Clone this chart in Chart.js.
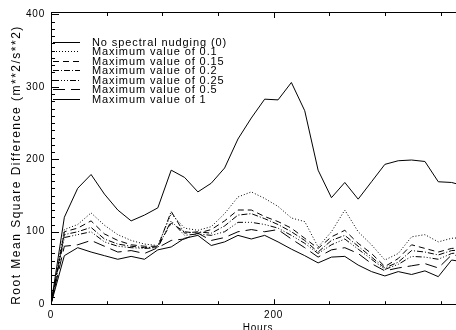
<!DOCTYPE html>
<html>
<head>
<meta charset="utf-8">
<script src="https://cdn.jsdelivr.net/npm/chart.js@4.4.0/dist/chart.umd.min.js"></script>
<style>
  html, body { margin: 0; padding: 0; background: #fff; overflow: hidden; }
  canvas { display: block; }
</style>
</head>
<body>
<canvas id="rmsChart" width="470" height="330"></canvas>
<script>
// forecast hours, 12-hourly output
const hours = [0, 12, 24, 36, 48, 60, 72, 84, 96, 108, 120, 132, 144, 156, 168, 180,
               192, 204, 216, 228, 240, 252, 264, 276, 288, 300, 312, 324, 336, 348, 360, 372];

const noNudging = [0, 120, 160, 179, 152, 130, 115, 123, 133, 185, 175, 155, 167, 188, 228, 257,
                   283, 282, 306, 267, 185, 147, 168, 145, 169, 193, 198, 199, 197, 169, 168, 163];
const max010 = [0, 103, 110, 126, 109, 96, 88, 83, 81, 125, 105, 102, 107, 125, 148, 155,
                146, 135, 119, 114, 79, 100, 130, 100, 82, 61, 70, 93, 96, 86, 91, 92];
const max015 = [0, 100, 105, 115, 97, 88, 82, 80, 80, 112, 100, 98, 103, 115, 130, 130,
                121, 114, 105, 91, 77, 93, 102, 84, 70, 52, 63, 82, 77, 72, 77, 78];
const max020 = [0, 96, 100, 106, 90, 83, 80, 78, 79, 128, 98, 100, 98, 108, 123, 125,
                118, 110, 100, 88, 72, 88, 95, 80, 65, 50, 58, 74, 72, 68, 74, 75];
const max025 = [0, 92, 96, 100, 86, 80, 78, 77, 78, 115, 95, 97, 95, 100, 113, 113,
                110, 105, 95, 84, 70, 82, 90, 76, 62, 48, 55, 66, 65, 62, 70, 72];
const max050 = [0, 80, 82, 88, 80, 72, 74, 70, 78, 88, 90, 98, 88, 92, 100, 103,
                100, 103, 90, 78, 65, 75, 78, 70, 56, 46, 50, 53, 56, 50, 68, 66];
const max100 = [0, 67, 78, 72, 67, 62, 66, 62, 75, 79, 91, 95, 81, 86, 95, 90,
                95, 86, 76, 67, 57, 65, 66, 54, 45, 39, 45, 41, 46, 38, 61, 58];

const seriesLabels = ['No spectral nudging (0)', 'Maximum value of 0.1', 'Maximum value of 0.15',
                      'Maximum value of 0.2', 'Maximum value of 0.25', 'Maximum value of 0.5',
                      'Maximum value of 1'];
const seriesValues = [noNudging, max010, max015, max020, max025, max050, max100];
const seriesDashes = [[], [1, 2], [6, 4], [6, 2, 1, 2], [6, 2, 1, 2, 1, 2, 1, 2], [12, 6], []];

const yTickValues = [0, 100, 200, 300, 400];
const xTickValues = [0, 200];
const yTitle = 'Root Mean Square Difference (m**2/s**2)';

const FONT = '"Liberation Sans", Arial, sans-serif';

function spacing(chart) {
    chart.ctx.letterSpacing = '0.8px';
}

// IDL-style box, inward ticks, y title and the line legend in the upper left corner
const idlFrame = {
    id: 'idlFrame',
    beforeUpdate: spacing,
    beforeDraw: spacing,
    afterDraw(chart) {
        const ctx = chart.ctx;
        const area = chart.chartArea;
        const xs = chart.scales.x;
        const ys = chart.scales.y;
        ctx.save();
        ctx.strokeStyle = '#000';
        ctx.lineWidth = 1;
        ctx.setLineDash([]);
        ctx.beginPath();
        ctx.moveTo(area.right + 2, Math.round(area.top) + 0.5);
        ctx.lineTo(Math.round(area.left) + 0.5, Math.round(area.top) + 0.5);
        ctx.lineTo(Math.round(area.left) + 0.5, Math.round(area.bottom) + 0.5);
        ctx.lineTo(area.right + 2, Math.round(area.bottom) + 0.5);
        ctx.stroke();

        ctx.beginPath();
        for (let v = 0; v <= 400; v += 50) {
            const px = Math.round(xs.getPixelForValue(v)) + 0.5;
            const len = v % 200 === 0 ? 5 : 3;
            ctx.moveTo(px, area.bottom);
            ctx.lineTo(px, area.bottom - len);
            ctx.moveTo(px, area.top);
            ctx.lineTo(px, area.top + len + 1);
        }
        for (let v = 0; v <= 400; v += 10) {
            const py = Math.round(ys.getPixelForValue(v)) + 0.5;
            const len = v % 100 === 0 ? 8 : 4;
            ctx.moveTo(area.left, py);
            ctx.lineTo(area.left + len, py);
        }
        ctx.stroke();

        ctx.fillStyle = '#000';

        // y axis title
        ctx.save();
        ctx.letterSpacing = '1.5px';
        ctx.font = '12px ' + FONT;
        ctx.translate(17, 165);
        ctx.rotate(-Math.PI / 2);
        ctx.textAlign = 'center';
        ctx.textBaseline = 'middle';
        ctx.fillText(yTitle, 0, 0);
        ctx.restore();

        // legend
        ctx.letterSpacing = '0.9px';
        ctx.font = '11px ' + FONT;
        ctx.textBaseline = 'middle';
        ctx.textAlign = 'left';
        chart.data.datasets.forEach((ds, i) => {
            const y = Math.round(41.7 + i * 9.5) + 0.5;
            ctx.setLineDash(ds.borderDash || []);
            ctx.beginPath();
            ctx.moveTo(53, y);
            ctx.lineTo(80, y);
            ctx.stroke();
            ctx.fillText(ds.label, 92, y);
        });
        ctx.restore();
    }
};

new Chart(document.getElementById('rmsChart'), {
    type: 'line',
    data: {
        labels: hours,
        datasets: seriesLabels.map((label, i) => ({
            label: label,
            data: hours.map((h, j) => ({ x: h, y: seriesValues[i][j] })),
            borderColor: '#000',
            borderWidth: 1,
            borderDash: seriesDashes[i],
            pointRadius: 0,
            tension: 0,
            fill: false
        }))
    },
    options: {
        responsive: false,
        animation: false,
        events: [],
        layout: { padding: { top: 12, right: 5, left: 0, bottom: 0 } },
        plugins: { legend: { display: false }, tooltip: { enabled: false } },
        scales: {
            x: {
                type: 'linear',
                min: 0,
                max: 372,
                afterBuildTicks: s => { s.ticks = xTickValues.map(v => ({ value: v })); },
                afterFit: s => { s.height = 25.8; },
                grid: { display: false, drawTicks: false },
                border: { display: false },
                ticks: { color: '#000', font: { family: FONT, size: 10 }, padding: 5, maxRotation: 0, autoSkip: false },
                title: { display: true, text: 'Hours', color: '#000', font: { family: FONT, size: 10 }, padding: { top: 0, bottom: -4 } }
            },
            y: {
                min: 0,
                max: 403.3,
                afterBuildTicks: s => { s.ticks = yTickValues.map(v => ({ value: v })); },
                afterFit: s => { s.width = 51; },
                grid: { display: false, drawTicks: false },
                border: { display: false },
                ticks: { color: '#000', font: { family: FONT, size: 10 }, padding: 6 },
                title: { display: false }
            }
        }
    },
    plugins: [idlFrame]
});
</script>
</body>
</html>
